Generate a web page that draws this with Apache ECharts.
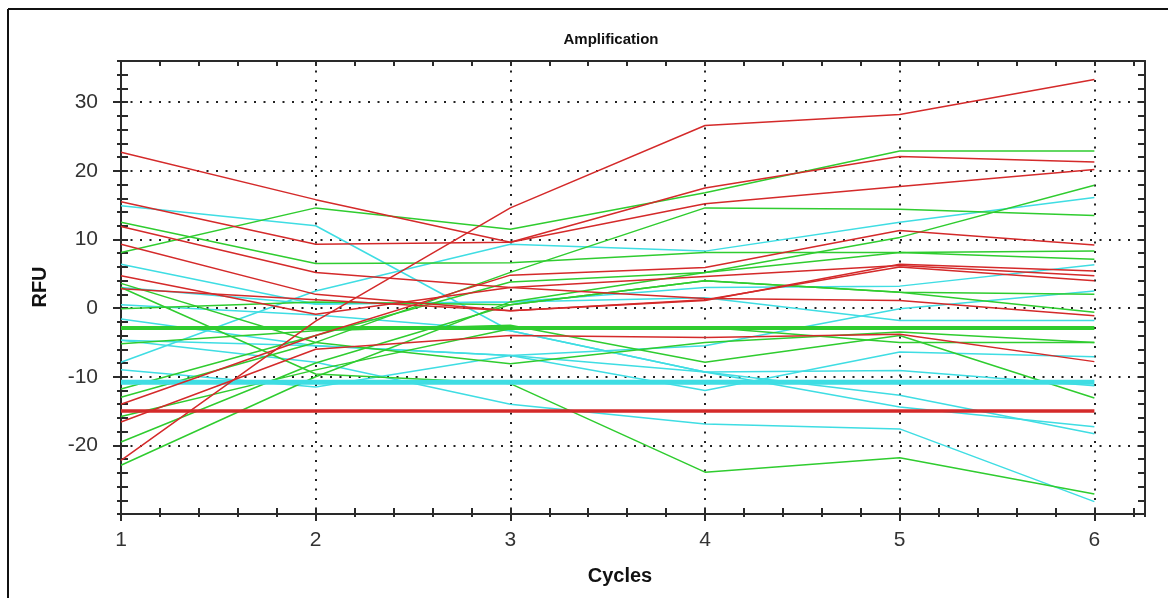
<!DOCTYPE html>
<html><head><meta charset="utf-8">
<script src="https://cdn.jsdelivr.net/npm/echarts@6/dist/echarts.min.js"></script>
<style>html,body{margin:0;padding:0;background:#fff;}#c{width:1168px;height:598px;}</style>
</head><body><div id="c"></div>
<script>
const cycles = [1, 2, 3, 4, 5, 6];
const xTicks = [1, 2, 3, 4, 5, 6];
const yTicks = [-20, -10, 0, 10, 20, 30];

const redLines = [
  [22.7, 15.8, 9.6, 17.5, 22.1, 21.3],
  [15.5, 9.3, 9.6, 15.2, 17.7, 20.2],
  [-22.2, -1.9, 14.6, 26.6, 28.2, 33.3],
  [11.9, 5.2, 3.0, 1.4, 1.1, -1.1],
  [9.3, 2.0, -0.4, 1.1, 6.4, 5.4],
  [-14.0, -4.0, 4.8, 5.9, 11.3, 9.2],
  [4.7, -0.9, 3.0, 4.6, 6.2, 4.7],
  [2.8, 1.2, -0.4, 1.2, 6.0, 4.0],
  [-16.6, -6.0, -4.0, -4.3, -3.8, -7.8]
];
const greenLines = [
  [8.1, 14.6, 11.5, 16.8, 22.9, 22.9],
  [12.5, 6.5, 6.6, 8.1, 8.1, 8.3],
  [-13.0, -5.0, 5.2, 14.6, 14.4, 13.5],
  [-22.9, -10.0, 0.9, 5.2, 10.3, 17.9],
  [3.0, -9.6, -11.0, -23.9, -21.8, -27.1],
  [-0.1, 0.9, 0.5, 4.0, 2.3, -0.6],
  [3.6, -5.0, -8.1, -5.0, -3.5, -5.0],
  [-5.2, -3.3, -2.5, -7.9, -4.0, -13.1],
  [-11.8, -4.0, 3.8, 5.2, 8.1, 7.1],
  [-19.5, -8.0, 0.5, 4.0, 2.3, 2.0],
  [-15.8, -9.0, -3.0, -2.8, -5.0, -5.0]
];
const cyanLines = [
  [14.9, 12.0, -3.3, -9.3, -12.7, -18.3],
  [-7.9, 2.5, 9.3, 8.3, 12.5, 16.1],
  [6.4, 0.6, 0.9, 3.0, 3.2, 6.3],
  [-1.6, -5.5, -6.9, -5.5, -0.1, 2.5],
  [-4.7, -7.9, -14.0, -16.9, -17.6, -28.2],
  [-9.0, -11.5, -6.9, -12.0, -6.4, -7.1],
  [0.5, -1.0, -3.3, -9.3, -9.1, -11.3],
  [-4.7, -5.5, -6.9, -9.3, -14.4, -17.3],
  [3.0, 0.6, 0.9, 1.5, -1.8, -1.8]
];
const redBaseline = [-15, -15, -15, -15, -15, -15];
const cyanBaseline = [-10.8, -10.8, -10.8, -10.8, -10.8, -10.8];
const greenBaseline = [-2.9, -2.9, -2.9, -2.9, -2.9, -2.9];

const RED = '#d42a2a', GREEN = '#2fcc2f', CYAN = '#3fdde3';
const FONT = '"Liberation Sans", Arial, sans-serif';

function mk(arr, color, width) {
  return {
    type: 'line', data: cycles.map((c, i) => [c, arr[i]]),
    showSymbol: false, symbol: 'none', silent: true,
    lineStyle: { color: color, width: width }, itemStyle: { color: color },
    animation: false, z: 3
  };
}
const series = [];
cyanLines.forEach(a => series.push(mk(a, CYAN, 1.5)));
greenLines.forEach(a => series.push(mk(a, GREEN, 1.5)));
series.push(mk(cyanBaseline, CYAN, 5));
series.push(mk(greenBaseline, GREEN, 4));
redLines.forEach(a => series.push(mk(a, RED, 1.5)));
series.push(mk(redBaseline, RED, 3.5));

const XMIN = 1, XMAX = 6.26, YMIN = -30, YMAX = 36;
const AX = '#2a2a2a';
const dotted = { show: true, lineStyle: { color: '#222', width: 2, type: [2, 7.5] } };
function tickAxis(pos, interval, inside, len, showLine, isX) {
  return {
    type: 'value', position: pos, min: isX ? XMIN : YMIN, max: isX ? XMAX : YMAX, interval: interval,
    axisLine: { show: showLine, onZero: false, lineStyle: { color: AX, width: 2 } },
    axisTick: { show: true, inside: inside, length: len, lineStyle: { color: AX, width: 2 } },
    axisLabel: { show: false }, splitLine: { show: false }
  };
}

const option = {
  animation: false,
  backgroundColor: '#ffffff',
  grid: { left: 121, right: 23, top: 61, bottom: 84, containLabel: false },
  xAxis: [
    {
      type: 'value', position: 'bottom', min: XMIN, max: XMAX, interval: 1,
      axisLine: { show: true, onZero: false, lineStyle: { color: AX, width: 2 } },
      axisTick: { show: true, inside: false, length: 7, lineStyle: { color: AX, width: 2 } },
      axisLabel: { show: true, margin: 16, color: '#333', fontSize: 21, fontFamily: FONT,
        showMaxLabel: false, formatter: v => (xTicks.includes(v) ? String(v) : '') },
      splitLine: dotted
    },
    tickAxis('bottom', 0.2, true, 6, false, true),
    tickAxis('bottom', 0.2, false, 3, false, true),
    tickAxis('top', 0.2, true, 5, true, true)
  ],
  yAxis: [
    {
      type: 'value', position: 'left', min: YMIN, max: YMAX, interval: 10,
      axisLine: { show: true, onZero: false, lineStyle: { color: AX, width: 2 } },
      axisTick: { show: true, inside: false, length: 8, lineStyle: { color: AX, width: 2 } },
      axisLabel: { show: true, margin: 23, color: '#333', fontSize: 21, fontFamily: FONT,
        showMinLabel: false, showMaxLabel: false, formatter: v => (yTicks.includes(v) ? String(v) : '') },
      splitLine: dotted
    },
    tickAxis('left', 2, true, 7, false, false),
    tickAxis('left', 2, false, 4, false, false),
    tickAxis('right', 2, true, 7, true, false)
  ],
  series: series,
  graphic: [
    { type: 'line', shape: { x1: 8, y1: 9, x2: 8, y2: 598 }, style: { stroke: '#111', lineWidth: 2 } },
    { type: 'line', shape: { x1: 8, y1: 9, x2: 1168, y2: 9 }, style: { stroke: '#111', lineWidth: 2 } },
    { type: 'text', x: 611, y: 40, style: { text: 'Amplification', fill: '#111', font: 'bold 15px ' + FONT, textAlign: 'center', textVerticalAlign: 'middle' } },
    { type: 'text', x: 620, y: 576, style: { text: 'Cycles', fill: '#111', font: 'bold 20px ' + FONT, textAlign: 'center', textVerticalAlign: 'middle' } },
    { type: 'text', x: 40, y: 287, rotation: Math.PI / 2, style: { text: 'RFU', fill: '#111', font: 'bold 20px ' + FONT, textAlign: 'center', textVerticalAlign: 'middle' } }
  ]
};
const chart = echarts.init(document.getElementById('c'), null, { renderer: 'canvas' });
chart.setOption(option);
</script></body></html>
